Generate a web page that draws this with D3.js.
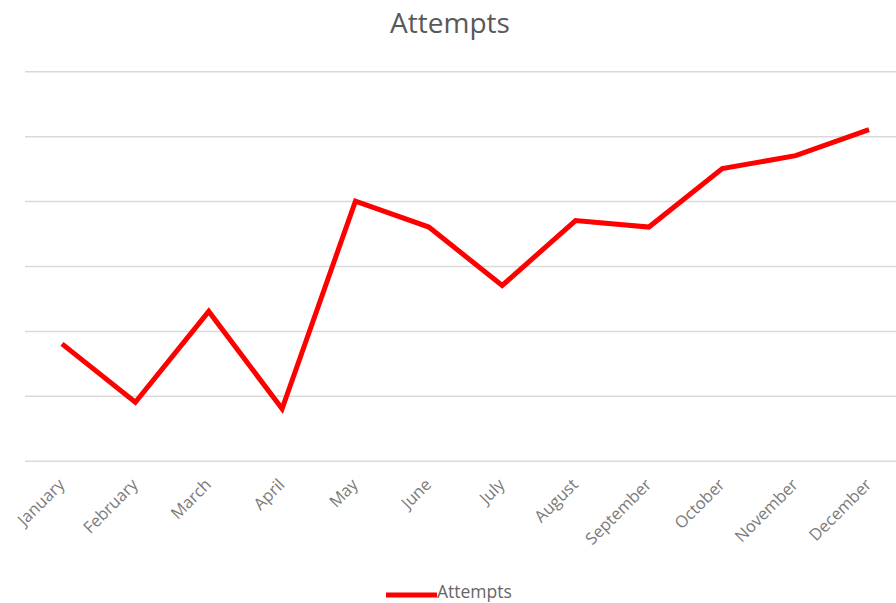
<!DOCTYPE html>
<html>
<head>
<meta charset="utf-8">
<script src="https://cdn.jsdelivr.net/npm/d3@7"></script>
<style>
  body { margin: 0; background: #fff; }
  text { font-family: "Open Sans", "Liberation Sans", sans-serif; }
</style>
</head>
<body>
<div id="chart"></div>
<script>
  var months = ["January", "February", "March", "April", "May", "June",
    "July", "August", "September", "October", "November", "December"];
  var attempts = [18, 9, 23, 8, 40, 36, 27, 37, 36, 45, 47, 51];
  var gridTicks = [0, 10, 20, 30, 40, 50, 60];

  var width = 896, height = 603;

  var svg = d3.select("#chart").append("svg")
    .attr("width", width).attr("height", height);

  var x = d3.scalePoint().domain(months).range([62, 869]);
  var y = d3.scaleLinear().domain([0, 60]).range([460.7, 71.3]);

  // title
  svg.append("text")
    .attr("x", 450).attr("y", 33)
    .attr("text-anchor", "middle")
    .attr("font-size", 28)
    .attr("fill", "#595959")
    .text("Attempts");

  // horizontal gridlines
  svg.append("g")
    .attr("transform", "translate(25,0)")
    .call(d3.axisLeft(y).tickValues(gridTicks).tickSize(-890).tickFormat(""))
    .call(function(g) {
      g.select(".domain").remove();
      g.selectAll(".tick line").attr("stroke", "#d9d9d9").attr("stroke-width", 1.5);
    });

  // month labels
  var xAxis = svg.append("g")
    .attr("transform", "translate(0,460.7)")
    .call(d3.axisBottom(x).tickSize(0).tickPadding(0));
  xAxis.select(".domain").remove();
  xAxis.selectAll(".tick text")
    .attr("font-size", 16.5)
    .attr("fill", "#7a7a7a")
    .attr("text-anchor", "end")
    .attr("dy", 0)
    .attr("transform", "translate(3,25) rotate(-45)");

  // line
  var line = d3.line()
    .x(function(d, i) { return x(months[i]); })
    .y(function(d) { return y(d); });

  svg.append("path")
    .datum(attempts)
    .attr("fill", "none")
    .attr("stroke", "#ff0000")
    .attr("stroke-width", 5)
    .attr("stroke-linejoin", "miter")
    .attr("d", line);

  // legend
  var legend = svg.append("g").attr("transform", "translate(386,595)");
  legend.append("line")
    .attr("x1", 0).attr("x2", 51)
    .attr("stroke", "#ff0000").attr("stroke-width", 5);
  legend.append("text")
    .attr("x", 51).attr("y", 3)
    .attr("font-size", 17.5)
    .attr("fill", "#666666")
    .text("Attempts");
</script>
</body>
</html>
